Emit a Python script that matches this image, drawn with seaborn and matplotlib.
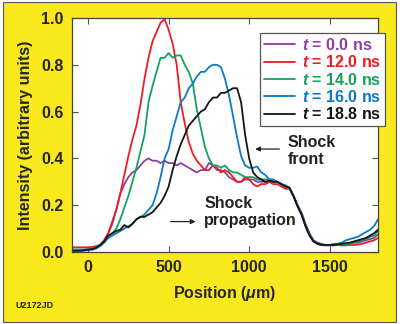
import numpy as np
import pandas as pd
import matplotlib
matplotlib.use("Agg")
import matplotlib.pyplot as plt
from matplotlib.patches import Rectangle
from matplotlib.lines import Line2D
import seaborn as sns

# Position grid (micrometres)
position = list(range(-100, 1801, 25))

# Intensity profiles (arbitrary units) at each time
int_t00 = [0.010, 0.010, 0.010, 0.010, 0.012, 0.015, 0.020, 0.030, 0.050, 0.080,
           0.120, 0.180, 0.250, 0.290, 0.320, 0.340, 0.350, 0.370, 0.390, 0.400,
           0.390, 0.390, 0.380, 0.390, 0.380, 0.380, 0.370, 0.380, 0.370, 0.360,
           0.350, 0.340, 0.350, 0.350, 0.380, 0.370, 0.350, 0.350, 0.340, 0.320,
           0.310, 0.300, 0.300, 0.310, 0.310, 0.310, 0.300, 0.300, 0.300, 0.300,
           0.300, 0.300, 0.290, 0.280, 0.270, 0.240, 0.200, 0.170, 0.120, 0.080,
           0.050, 0.040, 0.035, 0.030, 0.030, 0.030, 0.032, 0.030, 0.030, 0.035,
           0.040, 0.040, 0.045, 0.050, 0.055, 0.060, 0.075]
int_t12 = [0.020, 0.020, 0.020, 0.020, 0.020, 0.022, 0.025, 0.030, 0.050, 0.080,
           0.130, 0.180, 0.250, 0.330, 0.410, 0.480, 0.540, 0.630, 0.740, 0.830,
           0.900, 0.940, 0.980, 0.995, 0.950, 0.890, 0.800, 0.640, 0.550, 0.470,
           0.420, 0.390, 0.370, 0.350, 0.350, 0.370, 0.360, 0.340, 0.350, 0.340,
           0.320, 0.300, 0.300, 0.320, 0.310, 0.290, 0.280, 0.290, 0.290, 0.300,
           0.290, 0.290, 0.280, 0.270, 0.270, 0.240, 0.200, 0.160, 0.110, 0.070,
           0.045, 0.035, 0.030, 0.028, 0.028, 0.028, 0.030, 0.028, 0.028, 0.030,
           0.030, 0.032, 0.035, 0.040, 0.045, 0.050, 0.060]
int_t14 = [0.010, 0.010, 0.010, 0.010, 0.012, 0.015, 0.020, 0.030, 0.045, 0.065,
           0.080, 0.100, 0.140, 0.190, 0.240, 0.300, 0.360, 0.430, 0.500, 0.640,
           0.710, 0.770, 0.830, 0.830, 0.850, 0.830, 0.840, 0.840, 0.800, 0.770,
           0.720, 0.610, 0.530, 0.450, 0.400, 0.370, 0.370, 0.360, 0.370, 0.350,
           0.340, 0.340, 0.330, 0.320, 0.320, 0.320, 0.310, 0.310, 0.310, 0.310,
           0.300, 0.300, 0.290, 0.280, 0.270, 0.240, 0.200, 0.165, 0.115, 0.075,
           0.045, 0.035, 0.030, 0.030, 0.030, 0.035, 0.035, 0.032, 0.032, 0.035,
           0.040, 0.045, 0.050, 0.055, 0.065, 0.070, 0.090]
int_t16 = [0.005, 0.005, 0.005, 0.005, 0.008, 0.010, 0.015, 0.025, 0.040, 0.060,
           0.070, 0.080, 0.090, 0.100, 0.110, 0.120, 0.140, 0.150, 0.160, 0.180,
           0.200, 0.250, 0.320, 0.400, 0.440, 0.520, 0.580, 0.640, 0.660, 0.700,
           0.720, 0.750, 0.770, 0.770, 0.790, 0.800, 0.800, 0.790, 0.740, 0.670,
           0.580, 0.490, 0.410, 0.370, 0.360, 0.360, 0.365, 0.340, 0.330, 0.310,
           0.310, 0.300, 0.290, 0.285, 0.275, 0.240, 0.200, 0.165, 0.115, 0.075,
           0.045, 0.035, 0.030, 0.030, 0.030, 0.032, 0.035, 0.040, 0.050, 0.055,
           0.060, 0.065, 0.075, 0.085, 0.095, 0.110, 0.140]
int_t188 = [0.005, 0.005, 0.005, 0.008, 0.010, 0.012, 0.018, 0.030, 0.045, 0.070,
            0.080, 0.090, 0.095, 0.115, 0.105, 0.120, 0.140, 0.150, 0.150, 0.160,
            0.170, 0.190, 0.210, 0.240, 0.280, 0.350, 0.410, 0.460, 0.500, 0.540,
            0.560, 0.580, 0.600, 0.610, 0.640, 0.660, 0.660, 0.680, 0.680, 0.690,
            0.700, 0.700, 0.640, 0.500, 0.400, 0.340, 0.320, 0.310, 0.300, 0.305,
            0.300, 0.300, 0.290, 0.280, 0.275, 0.240, 0.195, 0.160, 0.110, 0.070,
            0.045, 0.035, 0.030, 0.030, 0.030, 0.030, 0.033, 0.035, 0.038, 0.040,
            0.045, 0.050, 0.055, 0.060, 0.070, 0.080, 0.095]

labels = ["$t$ = 0.0 ns", "$t$ = 12.0 ns", "$t$ = 14.0 ns", "$t$ = 16.0 ns", "$t$ = 18.8 ns"]
series = [int_t00, int_t12, int_t14, int_t16, int_t188]
colors = ["#8E3FA5", "#EE1D24", "#14A35E", "#0A7BC8", "#151515"]

x_ticks = [0, 500, 1000, 1500]
y_ticks = [0.0, 0.2, 0.4, 0.6, 0.8, 1.0]

frames = []
for lab, vals in zip(labels, series):
    frames.append(pd.DataFrame({"Position": position, "Intensity": vals, "Time": lab}))
df = pd.concat(frames, ignore_index=True)

sns.set_style("ticks")
plt.rcParams["font.family"] = ["Liberation Sans", "DejaVu Sans"]
plt.rcParams["font.weight"] = "bold"
plt.rcParams["mathtext.fontset"] = "custom"
plt.rcParams["mathtext.it"] = "Liberation Sans:bold:italic"
plt.rcParams["mathtext.rm"] = "Liberation Sans:bold"
plt.rcParams["mathtext.bf"] = "Liberation Sans:bold"

yellow = "#F8E81C"
fig = plt.figure(figsize=(4.0, 3.24), dpi=100, facecolor="white")
# yellow panel with a thin dark border behind everything
fig.patches.append(Rectangle((3 / 400, 2 / 324), 393 / 400, 320 / 324,
                             transform=fig.transFigure, facecolor=yellow,
                             edgecolor="#555555", linewidth=0.8, zorder=-10))
ax = fig.add_axes([72 / 400, 1 - 252 / 324, 306 / 400, 234 / 324])
ax.set_facecolor("white")

sns.lineplot(data=df, x="Position", y="Intensity", hue="Time", palette=colors,
             hue_order=labels, estimator=None, sort=False, linewidth=1.3,
             legend=False, ax=ax)

ax.set_xlim(-100, 1800)
ax.set_ylim(0.0, 1.0)
ax.set_xticks(x_ticks)
ax.set_yticks(y_ticks)
ax.set_yticklabels([f"{v:.1f}" for v in y_ticks])
ax.tick_params(direction="in", length=4, width=0.8, color="#555555",
               top=True, right=True, labelsize=11.5, pad=6)
for s in ax.spines.values():
    s.set_color("#444444")
    s.set_linewidth(0.9)

ax.set_xlabel(r"Position ($\mu$m)", fontsize=11.5, fontweight="bold", labelpad=6)
ax.set_ylabel("Intensity (arbitrary units)", fontsize=11.5, fontweight="bold", labelpad=6)

handles = [Line2D([], [], color=c, lw=1.3) for c in colors]
leg = fig.legend(handles, labels, loc="upper right",
                 bbox_to_anchor=(385 / 400, 1 - 33 / 324),
                 prop={"size": 11.5, "weight": "bold"}, frameon=True,
                 fancybox=False, framealpha=1, edgecolor="#555555",
                 handlelength=2.0, handletextpad=0.4, labelspacing=0.08,
                 borderpad=0.25, borderaxespad=0)
leg.get_frame().set_linewidth(0.9)
for txt, c in zip(leg.get_texts(), colors):
    txt.set_color(c)

arrow = dict(arrowstyle="-|>", color="#222222", lw=0.9, mutation_scale=7)
ax.annotate("", xy=(1020, 0.44), xytext=(1205, 0.44), arrowprops=arrow)
ax.text(1240, 0.50, "Shock\nfront", fontsize=11.5, fontweight="bold",
        va="top", ha="left", color="#222222", linespacing=1.15)
ax.annotate("", xy=(685, 0.13), xytext=(495, 0.13), arrowprops=arrow)
ax.text(720, 0.24, "Shock\npropagation", fontsize=11.5, fontweight="bold",
        va="top", ha="left", color="#222222", linespacing=1.15)

fig.text(15 / 400, 1 - 306 / 324, "U2172JD", fontsize=6.5, fontweight="bold",
         color="#222222", va="center", ha="left")

fig.savefig("out.png", dpi=100, facecolor=fig.get_facecolor())
